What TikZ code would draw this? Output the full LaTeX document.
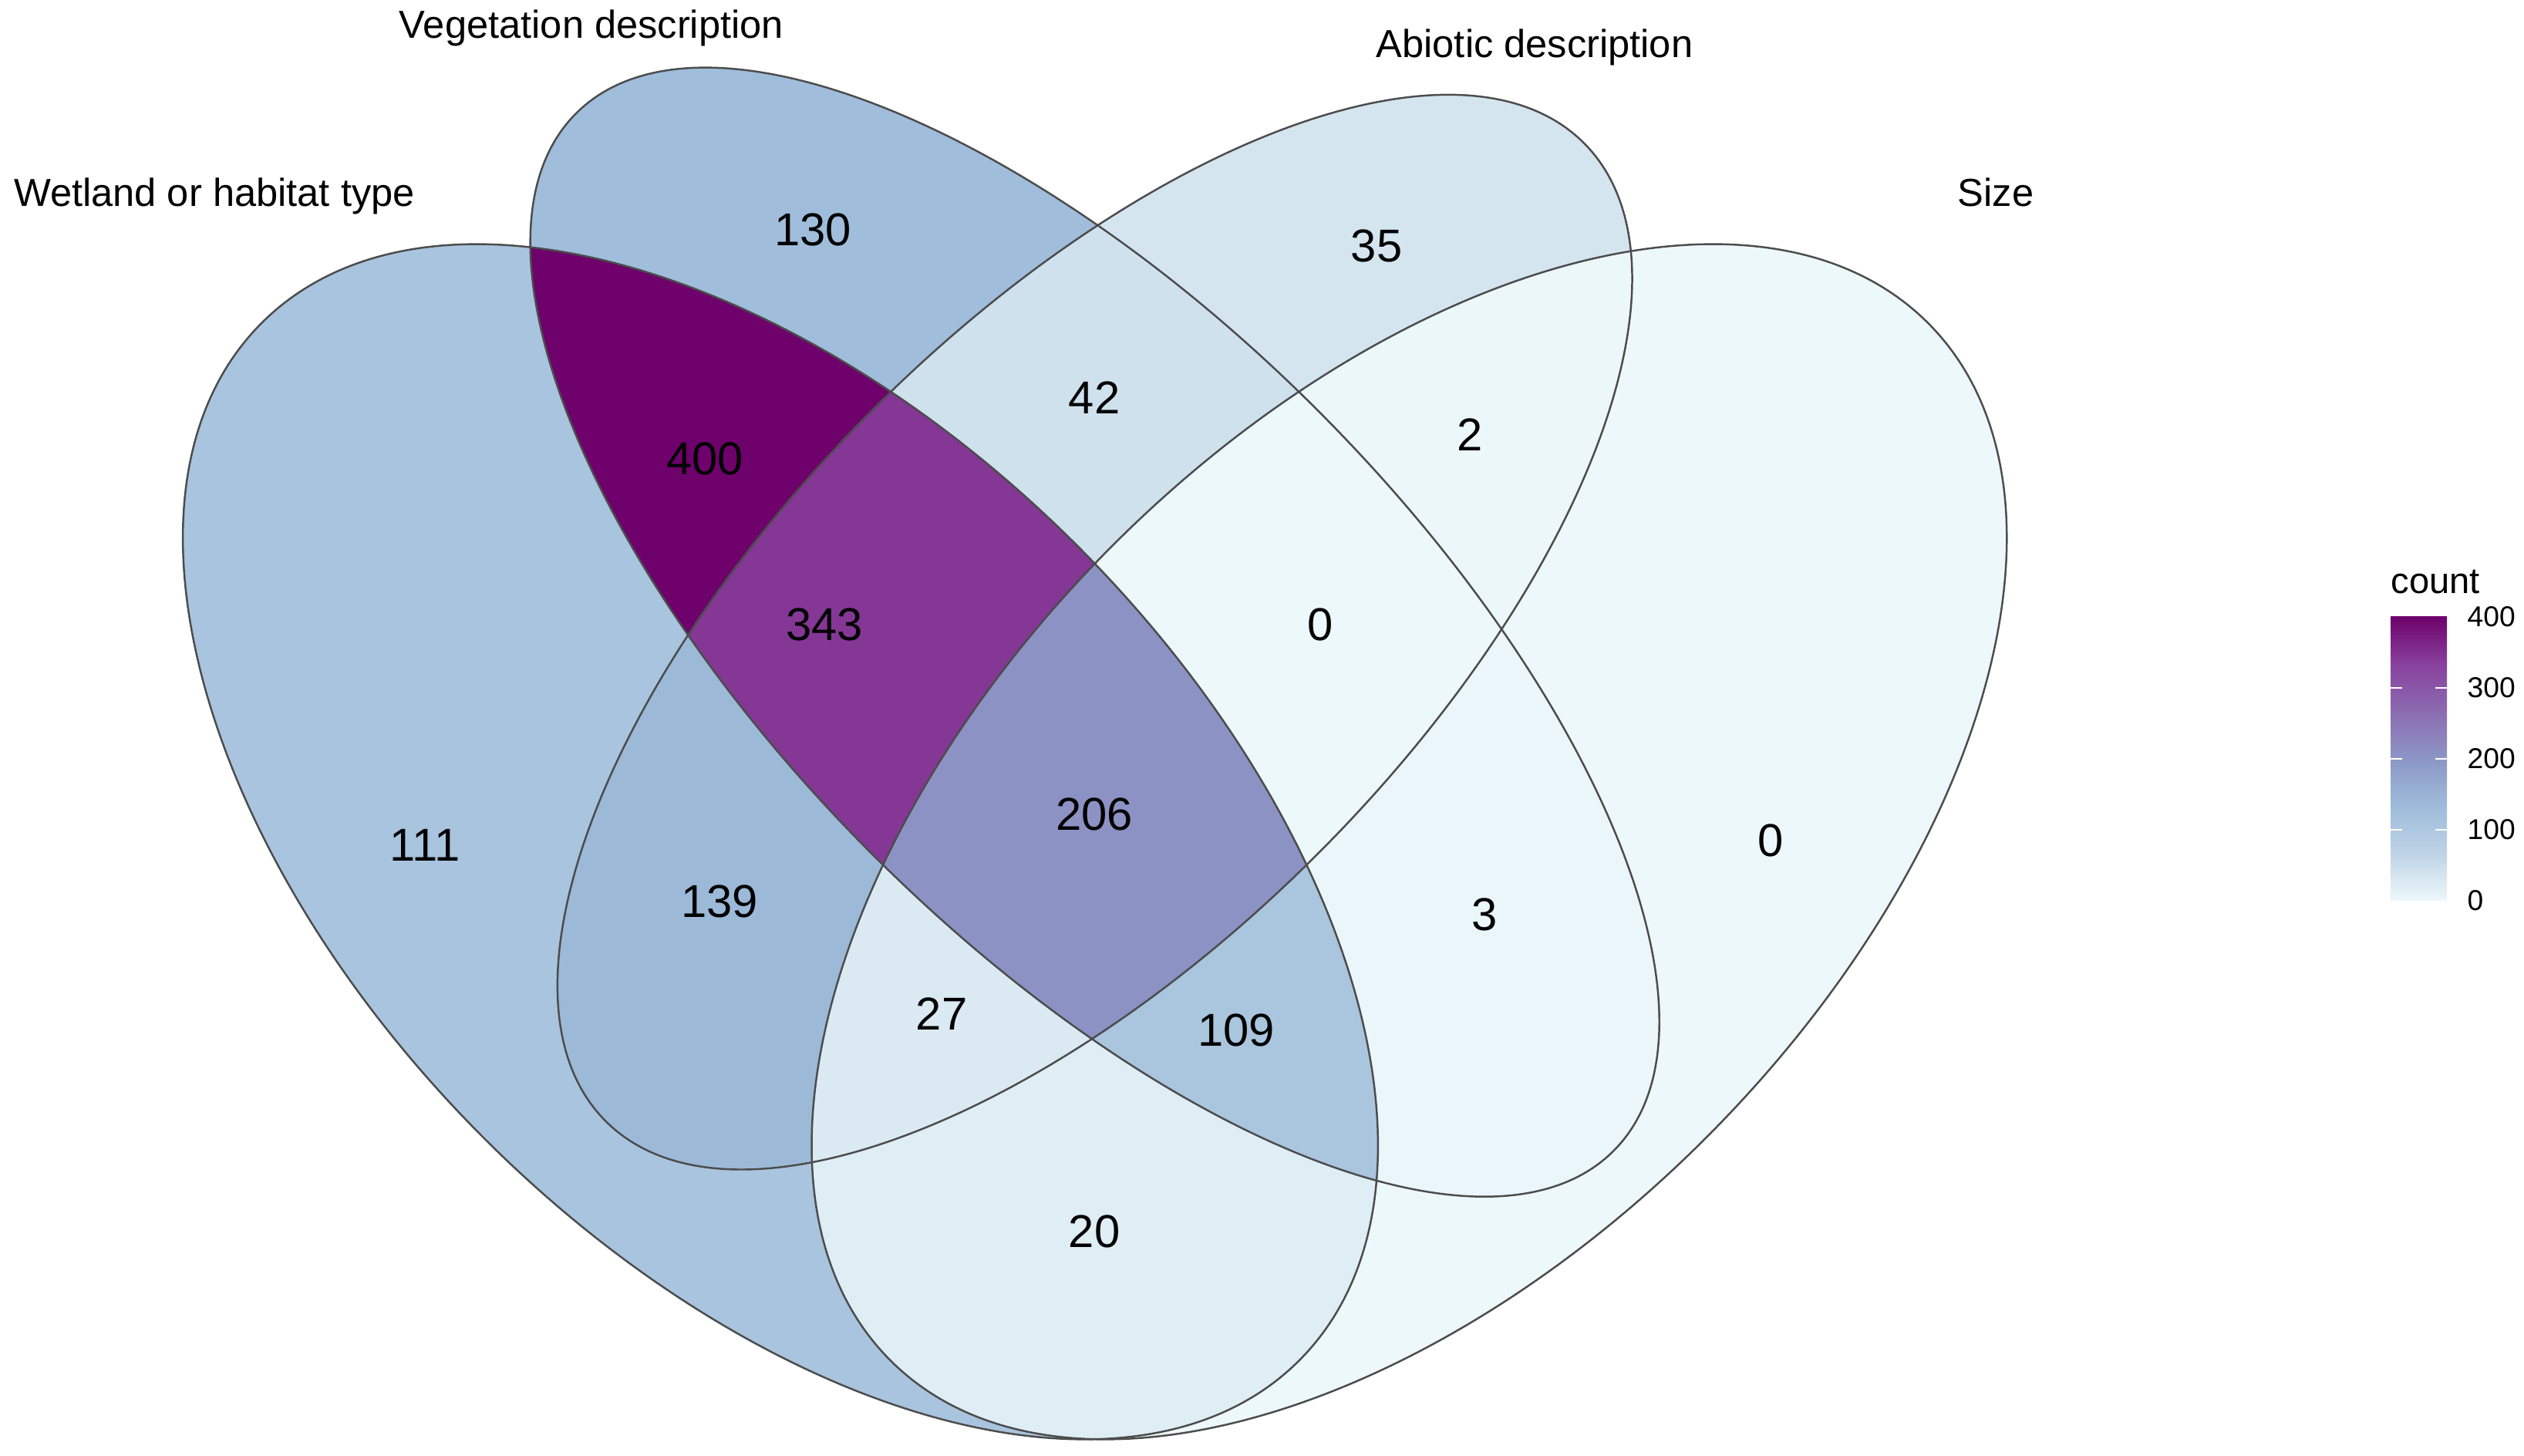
\documentclass[tikz,border=0pt]{standalone}
\usepackage{fontspec}
\setmainfont{Liberation Sans}
\usepackage{tikz}
\usepackage{xcolor}
% BuPu stops
\definecolor{bp0}{HTML}{EDF8FB}
\definecolor{bp1}{HTML}{BFD3E6}
\definecolor{bp2}{HTML}{9EBCDA}
\definecolor{bp3}{HTML}{8C96C6}
\definecolor{bp4}{HTML}{8C6BB1}
\definecolor{bp5}{HTML}{88419D}
\definecolor{bp6}{HTML}{6E016B}
\colorlet{c0}{bp0}
\colorlet{c2}{bp1!3!bp0}
\colorlet{c3}{bp1!5!bp0}
\colorlet{c20}{bp1!30!bp0}
\colorlet{c27}{bp1!40!bp0}
\colorlet{c35}{bp1!52!bp0}
\colorlet{c42}{bp1!63!bp0}
\colorlet{c109}{bp2!63!bp1}
\colorlet{c111}{bp2!67!bp1}
\colorlet{c130}{bp2!95!bp1}
\colorlet{c139}{bp3!9!bp2}
\colorlet{c206}{bp4!9!bp3}
\colorlet{c343}{bp6!15!bp5}
\colorlet{c400}{bp6}
\def\ellA{(10.120,7.965) circle [x radius=9.513cm, y radius=5.436cm, rotate=135]}
\def\ellB{(14.197,10.683) circle [x radius=9.513cm, y radius=4.077cm, rotate=135]}
\def\ellC{(14.197,10.683) circle [x radius=8.969cm, y radius=4.077cm, rotate=45]}
\def\ellD{(18.274,7.965) circle [x radius=9.513cm, y radius=5.436cm, rotate=45]}
\begin{document}
\begin{tikzpicture}[
  outline/.style={draw=black!70, line width=0.7pt},
  setlabel/.style={font=\fontsize{14.4}{17}\selectfont, anchor=base},
  num/.style={font=\fontsize{17}{20}\selectfont},
  ticklab/.style={font=\fontsize{10.6}{12}\selectfont, anchor=west, inner sep=0pt}
]
\useasboundingbox (0,0) rectangle (32.73,18.88);
% single sets
\fill[c111] \ellA;
\fill[c130] \ellB;
\fill[c35] \ellC;
\fill[c0] \ellD;
% pairs
\begin{scope} \clip \ellA; \fill[c400] \ellB; \end{scope}
\begin{scope} \clip \ellA; \fill[c139] \ellC; \end{scope}
\begin{scope} \clip \ellA; \fill[c20] \ellD; \end{scope}
\begin{scope} \clip \ellB; \fill[c42] \ellC; \end{scope}
\begin{scope} \clip \ellB; \fill[c3] \ellD; \end{scope}
\begin{scope} \clip \ellC; \fill[c2] \ellD; \end{scope}
% triples
\begin{scope} \clip \ellA; \clip \ellB; \fill[c343] \ellC; \end{scope}
\begin{scope} \clip \ellA; \clip \ellB; \fill[c109] \ellD; \end{scope}
\begin{scope} \clip \ellA; \clip \ellC; \fill[c27] \ellD; \end{scope}
\begin{scope} \clip \ellB; \clip \ellC; \fill[c0] \ellD; \end{scope}
% all four
\begin{scope} \clip \ellA; \clip \ellB; \clip \ellC; \fill[c206] \ellD; \end{scope}
\draw[outline] \ellA;
\draw[outline] \ellB;
\draw[outline] \ellC;
\draw[outline] \ellD;
% set names
\node[setlabel] (wet) at (2.78,16.20) {Wetland or habitat type};
\node[setlabel] (veg) at (7.67,18.38) {Vegetation description};
\node[setlabel] (abio) at (19.90,18.13) {Abiotic description};
\node[setlabel] (size) at (25.88,16.20) {Size};
% counts
\foreach \x/\y/\n [count=\i] in {5.51/7.92/111, 10.54/15.90/130, 17.85/15.69/35, 22.96/7.98/0,
  9.14/12.93/400, 14.19/13.72/42, 19.06/13.24/2, 10.69/10.78/343, 17.12/10.78/0,
  14.19/8.32/206, 9.33/7.19/139, 19.25/7.02/3, 12.21/5.73/27, 16.03/5.52/109, 14.19/2.91/20}{
\node[num] (r\i) at (\x,\y) {\n};
}
% legend
\foreach \lo/\hi [count=\k from 0] in {bp0/bp1, bp1/bp2, bp2/bp3, bp3/bp4, bp4/bp5, bp5/bp6}{
\shade[bottom color=\lo, top color=\hi] (31.00,{7.20+\k*0.6133}) rectangle (31.73,{7.20+(\k+1)*0.6133+0.005});
}
\foreach \v in {100,200,300}{
\draw[white, line width=0.6pt] (31.00,{7.20+\v*0.0092}) -- ++(0.15,0);
\draw[white, line width=0.6pt] (31.73,{7.20+\v*0.0092}) -- ++(-0.15,0);
}
\foreach \v in {0,100,200,300,400}{
\node[ticklab] (t\v) at (31.99,{7.20+\v*0.0092}) {\v};
}
\node[font=\fontsize{13.4}{16}\selectfont, anchor=base west, inner sep=0pt] (count) at (31.00,11.18) {count};
\end{tikzpicture}
\end{document}
